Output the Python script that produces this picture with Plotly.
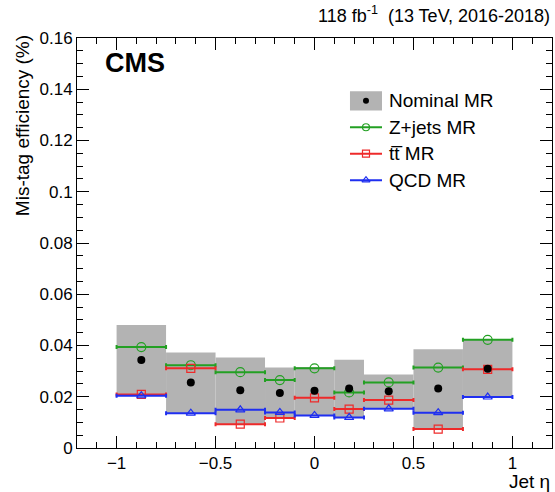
import plotly.graph_objects as go

# ---- data ----
bin_edges = [-1.0, -0.75, -0.5, -0.25, -0.1, 0.1, 0.25, 0.5, 0.75, 1.0]
nominal = [0.0343, 0.0256, 0.0225, 0.0215, 0.0223, 0.0232, 0.0221, 0.0232, 0.0309]
band_low = [0.0206, 0.0136, 0.0093, 0.0117, 0.0128, 0.0119, 0.0153, 0.0074, 0.0196]
band_high = [0.0480, 0.0373, 0.0353, 0.0314, 0.0316, 0.0344, 0.0287, 0.0385, 0.0422]
zjets = [0.0394, 0.0323, 0.0296, 0.0265, 0.0311, 0.0217, 0.0256, 0.0314, 0.0422]
ttbar = [0.0209, 0.0311, 0.0093, 0.0117, 0.0196, 0.0152, 0.0187, 0.0074, 0.0307]
qcd = [0.0204, 0.0136, 0.0149, 0.0139, 0.0127, 0.0119, 0.0153, 0.0138, 0.0199]

y_tickvals = [0, 0.02, 0.04, 0.06, 0.08, 0.10, 0.12, 0.14, 0.16]
y_ticktext = ["0", "0.02", "0.04", "0.06", "0.08", "0.1", "0.12", "0.14", "0.16"]
x_tickvals = [-1, -0.5, 0, 0.5, 1]
x_ticktext = ["\u22121", "\u22120.5", "0", "0.5", "1"]

legend_labels = ["Nominal MR", "Z+jets MR", "tt\u0305 MR", "QCD MR"]

# ---- derived ----
centers = [(a + b) / 2 for a, b in zip(bin_edges[:-1], bin_edges[1:])]
halfw = [(b - a) / 2 for a, b in zip(bin_edges[:-1], bin_edges[1:])]
widths = [2 * h for h in halfw]

GRAY = "#b3b3b3"
GREEN = "#23a023"
RED = "#ee2a2a"
BLUE = "#1f2ff0"
FONT = "Liberation Sans, Arial, Helvetica, sans-serif"

fig = go.Figure()

fig.add_trace(go.Bar(
    x=centers, y=[h - l for h, l in zip(band_high, band_low)], base=band_low,
    width=widths, marker=dict(color=GRAY, line=dict(width=0)),
    showlegend=False, hoverinfo="skip"))

def series(vals, color, symbol, size):
    return go.Scatter(
        x=centers, y=vals, mode="markers",
        marker=dict(symbol=symbol, size=size, color=color,
                    line=dict(color=color, width=1.2)),
        error_x=dict(type="data", array=halfw, symmetric=True,
                     color=color, thickness=2, width=2),
        showlegend=False)

fig.add_trace(series(zjets, GREEN, "circle-open", 9))
fig.add_trace(series(ttbar, RED, "square-open", 8))
fig.add_trace(series(qcd, BLUE, "triangle-up-open", 8))
fig.add_trace(go.Scatter(x=centers, y=nominal, mode="markers",
                         marker=dict(symbol="circle", size=8, color="black"),
                         showlegend=False))

# ---- manual legend (overlay axes in plot-fraction units) ----
leg_x0, leg_x1 = 0.5747, 0.6421
leg_xm = (leg_x0 + leg_x1) / 2
leg_xt = 0.653
leg_y0 = 0.8468
leg_dy = 0.0645
rows = [leg_y0 - i * leg_dy for i in range(4)]

fig.add_shape(type="rect", xref="x2", yref="y2", x0=leg_x0, x1=leg_x1,
              y0=rows[0] - 0.0235, y1=rows[0] + 0.0235,
              fillcolor=GRAY, line=dict(width=0), layer="below")
fig.add_trace(go.Scatter(x=[leg_xm], y=[rows[0]], xaxis="x2", yaxis="y2",
                         mode="markers", marker=dict(symbol="circle", size=6, color="black"),
                         showlegend=False, hoverinfo="skip"))
for r, color, sym, sz in [(rows[1], GREEN, "circle-open", 7),
                          (rows[2], RED, "square-open", 7),
                          (rows[3], BLUE, "triangle-up-open", 7)]:
    fig.add_trace(go.Scatter(x=[leg_x0, leg_x1], y=[r, r], xaxis="x2", yaxis="y2",
                             mode="lines", line=dict(color=color, width=2),
                             showlegend=False, hoverinfo="skip"))
    fig.add_trace(go.Scatter(x=[leg_xm], y=[r], xaxis="x2", yaxis="y2",
                             mode="markers",
                             marker=dict(symbol=sym, size=sz, color=color,
                                         line=dict(color=color, width=1.2)),
                             showlegend=False, hoverinfo="skip"))
for r, lab in zip(rows, legend_labels):
    fig.add_annotation(x=leg_xt, y=r, xref="x2", yref="y2", text=lab,
                       showarrow=False, xanchor="left", yanchor="middle",
                       font=dict(size=19, color="black", family=FONT))

axis_common = dict(showline=True, linecolor="black", linewidth=1, mirror="ticks",
                   ticks="inside", tickcolor="black", tickwidth=1, ticklen=12,
                   showgrid=False, zeroline=False,
                   tickfont=dict(size=17, color="black", family=FONT))

fig.update_layout(
    width=555, height=492,
    margin=dict(l=77, r=3, t=38, b=44),
    paper_bgcolor="white", plot_bgcolor="white",
    font=dict(family=FONT, color="black"),
    barmode="overlay",
    xaxis=dict(range=[-1.2, 1.2], tickvals=x_tickvals, ticktext=x_ticktext,
               minor=dict(dtick=0.1, tick0=0, ticks="inside", ticklen=6,
                          tickcolor="black", tickwidth=1, showgrid=False),
               **axis_common),
    yaxis=dict(range=[0, 0.16], tickvals=y_tickvals, ticktext=y_ticktext,
               minor=dict(dtick=0.005, tick0=0, ticks="inside", ticklen=6,
                          tickcolor="black", tickwidth=1, showgrid=False),
               **axis_common),
    xaxis2=dict(overlaying="x", range=[0, 1], visible=False, domain=[0, 1]),
    yaxis2=dict(overlaying="y", range=[0, 1], visible=False, domain=[0, 1]),
    showlegend=False,
)

fig.add_annotation(x=0.0547, y=0.938, xref="paper", yref="paper", text="<b>CMS</b>",
                   showarrow=False, xanchor="left", yanchor="middle",
                   font=dict(size=27, color="black", family=FONT))
fig.add_annotation(x=1.0, y=1.057, xref="paper", yref="paper",
                   text="118 fb<sup>-1</sup>  (13 TeV, 2016-2018)",
                   showarrow=False, xanchor="right", yanchor="middle",
                   font=dict(size=18, color="black", family=FONT))
fig.add_annotation(x=1.0, y=-0.082, xref="paper", yref="paper", text="Jet \u03b7",
                   showarrow=False, xanchor="right", yanchor="middle",
                   font=dict(size=19, color="black", family=FONT))
fig.add_annotation(x=-0.1158, y=1.013, xref="paper", yref="paper",
                   text="Mis-tag efficiency (%)", textangle=-90,
                   showarrow=False, xanchor="center", yanchor="top",
                   font=dict(size=19, color="black", family=FONT))

# remove the default 8px page margin so the figure fills the window exactly
fig.write_html("out.html",
               config={"displayModeBar": False},
               post_script="document.body.style.margin='0';"
                           "document.body.style.overflow='hidden';")
